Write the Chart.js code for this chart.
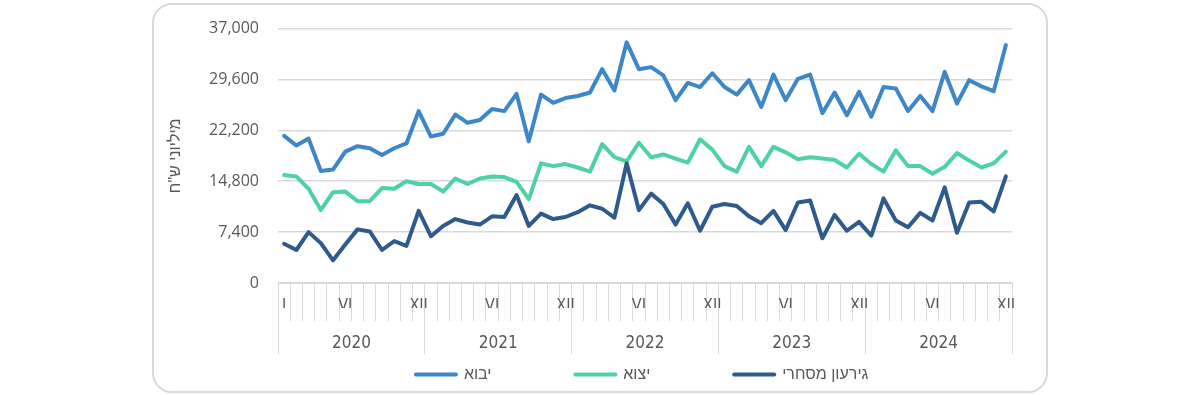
<!DOCTYPE html>
<html lang="he">
<head>
<meta charset="utf-8">
<script src="https://cdn.jsdelivr.net/npm/chart.js@4"></script>
<style>
  html, body { margin: 0; padding: 0; background: #fff; }
  body { width: 1200px; height: 395px; position: relative; overflow: hidden; }
  #frame {
    position: absolute; left: 152px; top: 3px; width: 896px; height: 390px;
    box-sizing: border-box; border: 2px solid #dadada; border-radius: 20px;
  }
  #chart { position: absolute; left: 0; top: 0; }
</style>
</head>
<body>
<div id="frame"></div>
<canvas id="chart" width="1200" height="395"></canvas>
<script>
// monthly values, 2020-2024 (million NIS)
const years = ['2020', '2021', '2022', '2023', '2024'];
const firstYearTicks = ['I', '', '', '', '', 'VI', '', '', '', '', '', 'XII'];
const yearTicks = ['', '', '', '', '', 'VI', '', '', '', '', '', 'XII'];
const monthTicks = firstYearTicks.concat(yearTicks, yearTicks, yearTicks, yearTicks);

const importValues = [
  21400, 20000, 21000, 16300, 16500, 19100, 19900, 19600, 18600, 19600, 20300, 25000,
  21300, 21700, 24500, 23300, 23700, 25300, 25000, 27500, 20600, 27400, 26200, 26900,
  27200, 27700, 31100, 28000, 35000, 31100, 31400, 30200, 26600, 29100, 28500, 30500,
  28500, 27400, 29500, 25600, 30300, 26600, 29700, 30300, 24700, 27700, 24400, 27800,
  24200, 28500, 28300, 25000, 27200, 25000, 30700, 26100, 29500, 28600, 27900, 34600
];
const exportValues = [
  15700, 15500, 13700, 10600, 13200, 13300, 11900, 11900, 13800, 13700, 14800, 14400,
  14400, 13300, 15200, 14400, 15200, 15500, 15400, 14700, 12200, 17400, 17000, 17300,
  16800, 16200, 20200, 18300, 17700, 20400, 18300, 18700, 18100, 17500, 20900, 19400,
  17000, 16200, 19800, 17000, 19800, 19000, 18000, 18300, 18100, 17900, 16800, 18800,
  17300, 16200, 19300, 17000, 17000, 15900, 16900, 18900, 17800, 16800, 17400, 19100
];
const deficitValues = [
  5700, 4800, 7400, 5800, 3300, 5600, 7800, 7500, 4800, 6100, 5400, 10500,
  6800, 8300, 9300, 8800, 8500, 9700, 9600, 12800, 8300, 10100, 9300, 9600,
  10300, 11300, 10800, 9500, 17400, 10600, 13000, 11500, 8500, 11600, 7600, 11100,
  11500, 11200, 9700, 8700, 10500, 7700, 11700, 12000, 6500, 9900, 7600, 8900,
  6900, 12300, 9100, 8100, 10200, 9100, 13900, 7300, 11700, 11800, 10400, 15500
];

const yMax = 37000;
const yStep = 7400;

const gridColor = '#d9d9d9';
const textColor = '#595959';
const hebFont = '"Liberation Sans", Arial, sans-serif';
const narrowFont = '"Liberation Sans Narrow", "DejaVu Sans Condensed", "Liberation Sans", sans-serif';
const legendSize = 16;

// pad legend text with trailing spaces so the entries sit 160px apart
function padLegendText(text, target) {
  const ctx = document.createElement('canvas').getContext('2d');
  ctx.font = legendSize + 'px ' + hebFont;
  let s = text;
  while (ctx.measureText(s + ' ').width <= target) s += ' ';
  while (ctx.measureText(s + '\u200A').width <= target) s += '\u200A';
  return s;
}

function line(label, data, color) {
  return {
    label,
    data,
    borderColor: color,
    backgroundColor: color,
    borderWidth: 4,
    borderCapStyle: 'round',
    borderJoinStyle: 'round',
    pointRadius: 0,
    pointHoverRadius: 0,
    tension: 0,
    fill: false
  };
}

new Chart(document.getElementById('chart'), {
  type: 'line',
  data: {
    labels: monthTicks,
    datasets: [
      line('גירעון מסחרי', deficitValues, '#2e5a8c'),
      line('יצוא', exportValues, '#4fd2a2'),
      line('יבוא', importValues, '#3d86c8')
    ]
  },
  options: {
    responsive: false,
    animation: false,
    layout: { padding: { left: 152, right: 188, top: 25, bottom: 2.5 } },
    scales: {
      x: {
        type: 'category',
        position: 'bottom',
        offset: true,
        grid: { offset: true, drawOnChartArea: false, tickLength: 38, color: gridColor },
        border: { display: true, color: gridColor },
        ticks: {
          autoSkip: false, maxRotation: 0, minRotation: 0, padding: -25,
          color: textColor, font: { family: narrowFont, size: 16 }
        },
        afterFit: (scale) => { scale.height = 25; }
      },
      year: {
        type: 'category',
        labels: years,
        position: 'bottom',
        weight: 1,
        offset: true,
        grid: { offset: true, drawOnChartArea: false, tickLength: 46, color: gridColor },
        border: { display: false },
        ticks: {
          autoSkip: false, maxRotation: 0, minRotation: 0, padding: -21,
          color: textColor, font: { family: narrowFont, size: 17 }
        },
        afterFit: (scale) => { scale.height = 48.5; }
      },
      y: {
        min: 0,
        max: yMax,
        ticks: {
          stepSize: yStep, padding: 19, color: textColor,
          font: { family: '"Open Sans", sans-serif', size: 16 }
        },
        grid: { color: gridColor, drawTicks: false, lineWidth: 1.5 },
        border: { display: false },
        title: {
          display: true,
          text: 'מיליוני ש"ח',
          color: textColor,
          font: { family: hebFont, size: 16 },
          padding: { top: 14, bottom: 0 }
        },
        afterFit: (scale) => { scale.width = 126; }
      }
    },
    plugins: {
      tooltip: { enabled: false },
      legend: {
        position: 'bottom',
        fullSize: false,
        reverse: true,
        labels: {
          usePointStyle: true,
          pointStyle: 'line',
          pointStyleWidth: 40,
          padding: 10,
          color: textColor,
          font: { family: hebFont, size: legendSize },
          generateLabels(chart) {
            const items = Chart.defaults.plugins.legend.labels.generateLabels(chart);
            items.forEach((item) => {
              item.lineCap = 'round';
              item.lineWidth = 4;
              item.text = padLegendText(item.text, item.datasetIndex === 0 ? 92 : 102);
            });
            return items;
          }
        }
      }
    }
  }
});
</script>
</body>
</html>
